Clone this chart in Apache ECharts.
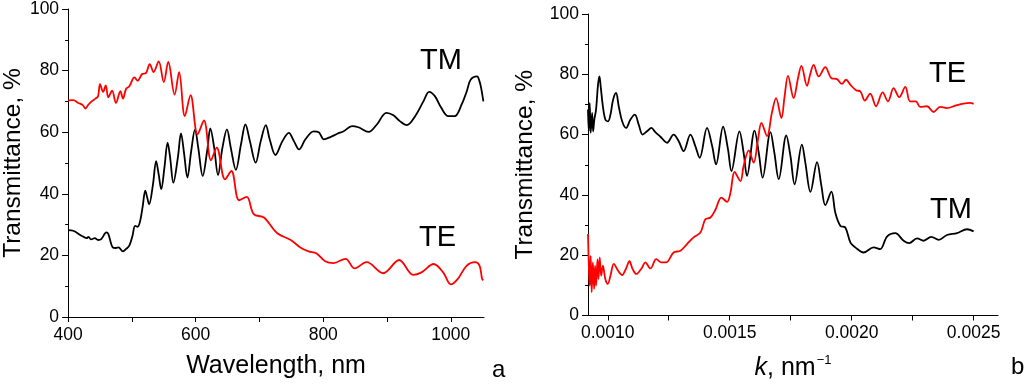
<!DOCTYPE html>
<html>
<head>
<meta charset="utf-8">
<script src="https://cdn.jsdelivr.net/npm/echarts@6/dist/echarts.min.js"></script>
<style>
html,body{margin:0;padding:0;background:#fff;}
#chart{width:1024px;height:386px;}
</style>
</head>
<body>
<div id="chart"></div>
<script>
// ---- Panel a: transmittance vs wavelength ----
const lambdaTM = [400,408,421,429,432,436,442,447,452,460,463,470,475,479,486,491,496,501,505,509,513,517,521,524,527,533,538,542,546,551,556,560,565,572,577,582,587,593,599,604,611,618,623,629,635,642,649,655,663,671,678,685,694,702,710,716,725,736,746,754,762,772,785,793,801,811,822,832,845,855,871,884,899,910,920,931,944,957,966,975,985,996,1006,1017,1025,1031,1041,1045,1048,1051];
const transTM_a = [28.2,28,26.4,25.6,26,25.2,25.6,25,25.3,27.5,27,22.6,22.4,22.6,21.3,22.1,23.2,26.4,29.6,29.3,31.2,36,41,38.8,36.6,43,50.6,46.3,41.5,48.5,56.6,51.7,43.6,51.7,59.6,52.8,45.3,53.9,60.9,55,45.8,53.9,61.2,55,46.1,55,60.9,55,47.8,56,62.5,57.1,50.1,57.1,62.3,57.7,52.6,57.1,59.8,57.1,54.4,57.7,60.3,60,57.7,58.4,59.5,60.3,62,61.6,60.1,62.5,66.3,65.5,63.6,62.3,65.2,70,73.1,71.7,67.9,65.2,65.2,69,73.3,77,78.1,76.5,73.8,70];
const lambdaTE = [400,408,416,423,427,432,437,443,447,450,455,459,463,469,475,482,486,491,496,504,509,516,522,528,534,542,550,557,567,574,583,592,603,613,624,633,646,656,668,680,691,707,728,749,764,777,789,803,816,835,849,868,894,919,941,954,973,988,1000,1011,1025,1038,1045,1049,1051];
const transTE_a = [70.3,70.4,69.5,68.8,67.7,69,70,70.9,71.7,75.6,73.1,75.2,71.3,73.5,69.5,73.3,70.9,74.1,74.9,77.8,76.7,78.9,79.2,82.1,79.5,83,76.3,82.8,72.2,79.5,65.2,72,59.3,63.8,50.9,55,44.7,47.4,37.9,39,33.4,32.3,27.2,25,22.6,21.3,20.7,18.1,17.5,18.9,15.8,17.8,14.2,18.5,13.7,14.5,17.2,14.5,10.6,12.4,16.7,17.8,16.7,12.4,11.9];
const ticksA = [400,500,600,700,800,900,1000];
const labelsA = [400,600,800,1000];

// ---- Panel b: transmittance vs k ----
const kTM = [0.000919,0.000922,0.000926,0.00093,0.000936,0.00094,0.000945,0.000952,0.00096,0.000966,0.000971,0.00098,0.00099,0.001001,0.001011,0.001022,0.001034,0.001045,0.001059,0.001075,0.001093,0.001111,0.001127,0.001143,0.001161,0.001179,0.001195,0.001216,0.001243,0.00127,0.001291,0.001311,0.001339,0.001359,0.001377,0.001407,0.001428,0.001444,0.001473,0.001493,0.001507,0.00154,0.001557,0.001571,0.001602,0.001619,0.001635,0.001667,0.001683,0.001701,0.001732,0.001749,0.001766,0.001796,0.00181,0.001831,0.001858,0.001876,0.001892,0.001917,0.001933,0.001954,0.001974,0.001995,0.002015,0.002049,0.00209,0.002117,0.002145,0.002179,0.002213,0.002236,0.002268,0.002295,0.002326,0.002357,0.002391,0.002432,0.002473,0.0025];
const transTM_b = [68.3,61.1,70.5,60.6,67.2,61.1,65,68.3,76.5,79.3,76,69.4,65,64.4,66.6,71.6,73.8,69.4,64.4,62.2,65,66.6,63.3,60,61.1,62.2,60.8,59.3,57.3,60,57.8,54.5,60,56.2,52.3,62.2,56.2,50.1,62.6,55.1,47.9,61.1,54,46.3,61.3,54,45.7,60.8,54,45.2,59.7,52.9,43.5,56.7,50.7,41,50.9,43,36.6,41.1,34.1,29.7,29.2,24.2,22.6,20.9,22.6,22,26.2,27.3,24.8,24,25.6,24.8,26.1,25.1,26.7,27.3,28.6,27.9];
const kTE = [0.000919,0.000922,0.000926,0.00093,0.000934,0.000939,0.000944,0.000948,0.000952,0.000958,0.000962,0.000967,0.000973,0.00098,0.00099,0.001,0.001011,0.001025,0.001042,0.001059,0.001075,0.001089,0.001102,0.001117,0.001138,0.001154,0.001175,0.001199,0.00122,0.001239,0.00127,0.001298,0.001325,0.001352,0.00138,0.0014,0.001421,0.001441,0.001466,0.001489,0.001503,0.00152,0.001544,0.001557,0.001578,0.001598,0.001616,0.00163,0.001653,0.001673,0.00169,0.001712,0.001725,0.001739,0.001762,0.00178,0.001794,0.001817,0.00183,0.001844,0.001865,0.001892,0.001917,0.00194,0.00196,0.001977,0.001995,0.002018,0.002036,0.002054,0.002076,0.0021,0.002127,0.002149,0.002172,0.002195,0.00222,0.00224,0.002263,0.002281,0.002309,0.002336,0.002363,0.002391,0.002425,0.002459,0.002486,0.0025];
const transTE_b = [27,17.6,9.9,19.8,7.7,17.6,8.8,16.5,9.9,18.7,12.1,19.3,13.2,16.5,12.1,10.5,13.2,17.1,14.9,13.4,15.6,18,15.4,13.8,15.6,17.6,15.6,18.7,17.6,17.6,20.9,21.5,23.7,25.9,27.5,31.9,32.5,35,39.1,37.7,40.7,47.6,44.6,49.6,54.8,50.7,58.4,63.9,59.5,67.2,72.1,65.5,72.7,79.5,72.1,78.7,82.8,76.2,80,83.1,79.3,82.4,78.7,78.4,76.8,78.2,76.5,74.7,74.3,71.3,73.6,69.4,74,71,75.4,72.4,75.8,71,71,69.2,69.4,67.5,69.2,68.8,69.6,70.3,70.5,70.2];
const ticksB = [0.001,0.00125,0.0015,0.00175,0.002,0.00225,0.0025];
const labelsB = [0.001,0.0015,0.002,0.0025];

const yTickLabels = [0,20,40,60,80,100];

const FONT = 'Liberation Sans, Arial, Helvetica, sans-serif';
const zip = (xs, ys) => xs.map((x, i) => [x, ys[i]]);

function yAxisCfg(gridIndex, gap) {
  return {
    gridIndex, type: 'value', min: 0, max: 100, interval: 20,
    name: 'Transmittance, %', nameLocation: 'middle', nameGap: gap, nameRotate: 90,
    nameTextStyle: {fontFamily: FONT, fontSize: 24.5, color: '#000'},
    axisLine: {show: true, lineStyle: {color: '#000', width: 1}},
    axisTick: {show: true, length: 6, lineStyle: {color: '#000'}},
    minorTick: {show: true, splitNumber: 2, length: 3, lineStyle: {color: '#000'}},
    splitLine: {show: false},
    axisLabel: {fontFamily: FONT, fontSize: 17.5, color: '#000', margin: 9,
      customValues: yTickLabels, formatter: v => String(v)}
  };
}

const option = {
  animation: false,
  backgroundColor: '#fff',
  grid: [
    {left: 66, top: 8, right: 540, bottom: 69},
    {left: 588, top: 14, right: 26, bottom: 69}
  ],
  xAxis: [
    {
      gridIndex: 0, type: 'value', min: 400, max: 1052,
      name: 'Wavelength, nm', nameLocation: 'middle', nameGap: 37,
      nameTextStyle: {fontFamily: FONT, fontSize: 25, color: '#000'},
      axisLine: {show: true, lineStyle: {color: '#000', width: 1}},
      axisTick: {show: true, length: 5, lineStyle: {color: '#000'}, customValues: ticksA},
      splitLine: {show: false},
      axisLabel: {fontFamily: FONT, fontSize: 17.5, color: '#000', margin: 9, customValues: labelsA,
        formatter: v => String(v)}
    },
    {
      gridIndex: 1, type: 'value', min: 0.000919, max: 0.0026,
      name: '{i|k}{n|, nm}{s|−1}', nameLocation: 'middle', nameGap: 38,
      nameTextStyle: {fontFamily: FONT, fontSize: 25, color: '#000',
        rich: {
          i: {fontFamily: FONT, fontSize: 25, fontStyle: 'italic', color: '#000', lineHeight: 30},
          n: {fontFamily: FONT, fontSize: 25, color: '#000', lineHeight: 30},
          s: {fontFamily: FONT, fontSize: 13, color: '#000', verticalAlign: 'top', lineHeight: 30, padding: [0, 0, 10, 1]}
        }},
      axisLine: {show: true, lineStyle: {color: '#000', width: 1}},
      axisTick: {show: true, length: 5, lineStyle: {color: '#000'}, customValues: ticksB},
      splitLine: {show: false},
      axisLabel: {fontFamily: FONT, fontSize: 17.5, color: '#000', margin: 9, customValues: labelsB,
        formatter: v => Number(v).toFixed(4)}
    }
  ],
  yAxis: [yAxisCfg(0, 42), yAxisCfg(1, 50)],
  series: [
    {type: 'line', xAxisIndex: 0, yAxisIndex: 0, data: zip(lambdaTM, transTM_a), showSymbol: false, smooth: 0.35,
      lineStyle: {color: '#000', width: 1.8}, itemStyle: {color: '#000'}},
    {type: 'line', xAxisIndex: 0, yAxisIndex: 0, data: zip(lambdaTE, transTE_a), showSymbol: false, smooth: 0.35,
      lineStyle: {color: '#ff0000', width: 1.8}, itemStyle: {color: '#ff0000'}},
    {type: 'line', xAxisIndex: 1, yAxisIndex: 1, data: zip(kTM, transTM_b), showSymbol: false, smooth: 0.35,
      lineStyle: {color: '#000', width: 1.8}, itemStyle: {color: '#000'}},
    {type: 'line', xAxisIndex: 1, yAxisIndex: 1, data: zip(kTE, transTE_b), showSymbol: false, smooth: 0.35,
      lineStyle: {color: '#ff0000', width: 1.8}, itemStyle: {color: '#ff0000'}}
  ],
  graphic: [
    {type: 'text', left: 420, top: 46, style: {text: 'TM', font: '29px ' + FONT, fill: '#000'}},
    {type: 'text', left: 419, top: 223, style: {text: 'TE', font: '29px ' + FONT, fill: '#000'}},
    {type: 'text', left: 929, top: 59, style: {text: 'TE', font: '29px ' + FONT, fill: '#000'}},
    {type: 'text', left: 930, top: 195, style: {text: 'TM', font: '29px ' + FONT, fill: '#000'}},
    {type: 'text', left: 492, top: 358, style: {text: 'a', font: '24px ' + FONT, fill: '#000'}},
    {type: 'text', left: 1011, top: 355, style: {text: 'b', font: '24px ' + FONT, fill: '#000'}}
  ]
};

const chart = echarts.init(document.getElementById('chart'), null, {renderer: 'canvas'});
chart.setOption(option);
</script>
</body>
</html>
